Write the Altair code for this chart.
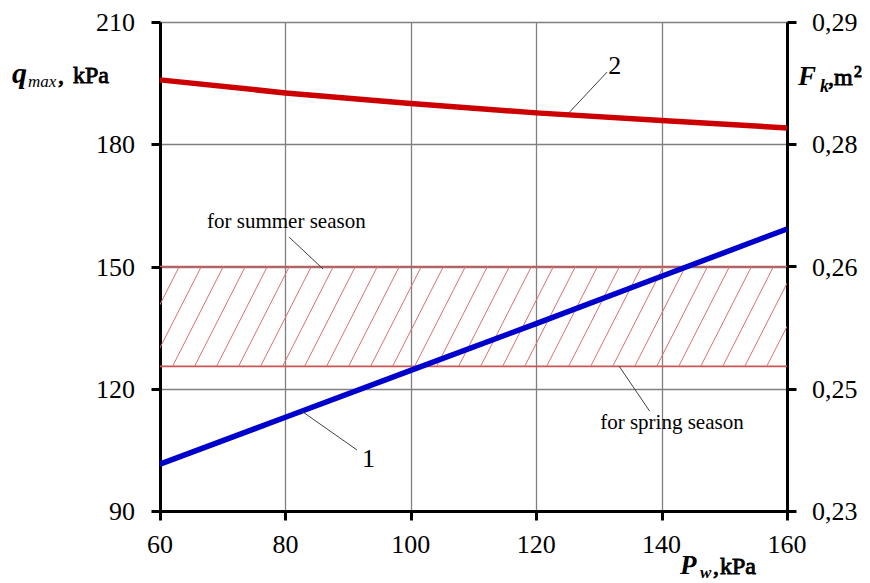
import altair as alt
import pandas as pd
import numpy as np

# ---------------- data ----------------
pw = [60, 80, 100, 120, 140, 160]
q_max = [101.5, 113.0, 124.5, 136.0, 147.6, 159.2]          # curve 1, left axis (kPa)
f_k = [0.2829, 0.2813, 0.2800, 0.27885, 0.2779, 0.2770]      # curve 2, right axis (m2)

band_low = 125.5     # for spring season
band_high = 150.0    # for summer season

x_ticks = [60, 80, 100, 120, 140, 160]
y_ticks = [90, 120, 150, 180, 210]
y2_ticks = [0.23, 0.245, 0.26, 0.275, 0.29]
y2_labels = ["0,23", "0,25", "0,26", "0,28", "0,29"]

FONT = "Liberation Serif"
W, H = 627, 489

# hatch (decoration of the band)
hatch_top = np.arange(63.08 - 3.51 * 3, 168, 3.51)
hatch = pd.DataFrame({"xt": hatch_top, "xb": hatch_top - 8.1,
                      "yt": band_high, "yb": band_low})

lines_df = pd.DataFrame({"pw": pw, "q": q_max, "f": f_k})
band_df = pd.DataFrame({"y": [band_low, band_high]})

xscale = alt.Scale(domain=[60, 160], nice=False, zero=False)
yscale = alt.Scale(domain=[90, 210], nice=False, zero=False)
y2scale = alt.Scale(domain=[0.23, 0.29], nice=False, zero=False)

common = dict(title=None, labels=False, tickSize=9, domainWidth=3, tickWidth=3,
              domainColor="black", tickColor="black", gridColor="#808080", gridWidth=1.3)
xaxis = alt.Axis(values=x_ticks, grid=True, **common)
yaxis = alt.Axis(values=y_ticks, grid=True, **common)
y2axis = alt.Axis(values=y2_ticks, orient="right", grid=False, **common)


def X(f):
    return alt.X(f, type="quantitative", scale=xscale, axis=xaxis)


def Y(f):
    return alt.Y(f, type="quantitative", scale=yscale, axis=yaxis)


band_lines = alt.Chart(band_df).mark_rule(color="#cc5555", strokeWidth=1.6).encode(
    y=Y("y"), x=alt.value(0), x2=alt.value(W))

hatch_layer = alt.Chart(hatch).mark_rule(color="#d97070", strokeWidth=1, clip=True).encode(
    x=X("xb"), y=Y("yb"), x2="xt", y2="yt")

blue = alt.Chart(lines_df).mark_line(color="#0000cc", strokeWidth=5.5).encode(
    x=X("pw"), y=Y("q"))

# leader lines and annotations (data coordinates)
leaders = pd.DataFrame({
    "x1": [125.2, 82.6, 80.6, 133.2],
    "y1": [187.7, 114.5, 157.2, 125.6],
    "x2": [131.3, 91.4, 86.0, 138.1],
    "y2": [197.7, 105.0, 149.4, 114.5],
})
leader_layer = alt.Chart(leaders).mark_rule(color="#404040", strokeWidth=1).encode(
    x=X("x1"), y=Y("y1"), x2="x2", y2="y2")

ann = pd.DataFrame({
    "x": [131.5, 92.2, 67.5, 130.2],
    "y": [197.2, 100.8, 159.4, 110.1],
    "t": ["2", "1", "for summer season", "for spring season"],
    "s": [26, 26, 21, 21],
})
ann_layer = alt.Chart(ann).mark_text(font=FONT, align="left", baseline="alphabetic",
                                     color="black").encode(
    x=X("x"), y=Y("y"), text="t", size=alt.Size("s:Q", scale=None, legend=None))

# tick labels drawn as text (serif font)
xlab = alt.Chart(pd.DataFrame({"v": x_ticks})).mark_text(
    font=FONT, fontSize=26, align="center", baseline="alphabetic", color="black").encode(
    x=X("v"), y=alt.value(H + 42), text=alt.Text("v:Q"))
ylab = alt.Chart(pd.DataFrame({"v": y_ticks})).mark_text(
    font=FONT, fontSize=26, align="right", baseline="alphabetic", dy=9, color="black").encode(
    x=alt.value(-25), y=Y("v"), text=alt.Text("v:Q"))

left_group = alt.layer(band_lines, hatch_layer, blue, leader_layer, ann_layer, xlab, ylab)

red = alt.Chart(lines_df).mark_line(color="#cc0000", strokeWidth=5.5).encode(
    x=X("pw"), y=alt.Y("f", type="quantitative", scale=y2scale, axis=y2axis))
y2lab = alt.Chart(pd.DataFrame({"v": y2_ticks, "t": y2_labels})).mark_text(
    font=FONT, fontSize=26, align="left", baseline="alphabetic", dy=9, color="black").encode(
    x=alt.value(W + 25), y=alt.Y("v", type="quantitative", scale=y2scale, axis=y2axis),
    text="t")
right_group = alt.layer(red, y2lab)

# axis titles as text pieces: (text, page x, page baseline y, size, bold, style)
title_pieces = [
    ("q", 12, 83, 30, True, "italic"),
    ("max", 28, 87, 17, False, "italic"),
    (",", 58, 83, 24, True, "normal"),
    ("kPa", 73, 83, 24, True, "normal"),
    ("F", 798, 85, 27, True, "italic"),
    ("k", 820, 92, 18, True, "italic"),
    (",", 828, 85, 24, True, "normal"),
    ("m", 834, 85, 24, True, "normal"),
    ("2", 854, 77, 16, True, "normal"),
    ("P", 680, 574, 27, True, "italic"),
    ("w", 700, 578, 17, True, "italic"),
    (",", 713, 574, 24, True, "normal"),
    ("kPa", 720, 574, 24, True, "normal"),
]
title_layers = []
for t, px, py, s, bold, sty in title_pieces:
    kw = dict(font=FONT, fontSize=s, fontStyle=sty, align="left",
              baseline="alphabetic", color="black")
    if bold and sty == "normal":
        # emulate bold serif with a thin outline of the regular face
        kw.update(fontWeight="normal", stroke="black", strokeWidth=0.9)
    elif bold:
        kw.update(fontWeight="bold")
    title_layers.append(
        alt.Chart(pd.DataFrame({"t": [t]})).mark_text(**kw).encode(
            x=alt.value(px - 160), y=alt.value(py - 22), text="t"))

chart = alt.layer(left_group, right_group, *title_layers).resolve_scale(y="independent").properties(
    width=W, height=H,
    autosize=alt.AutoSizeParams(type="none"),
    padding={"left": 152, "top": 14, "right": 75, "bottom": 70},
).configure_view(stroke="black", strokeWidth=2).configure(
    background="white", font=FONT
).configure_text(font=FONT)

chart.save("out.html", embed_options={"renderer": "svg", "actions": False})
